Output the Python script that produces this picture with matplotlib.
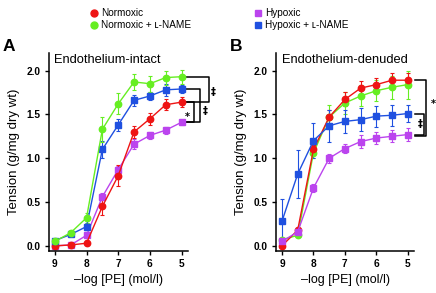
import numpy as np
import matplotlib
matplotlib.use("Agg")
import matplotlib.pyplot as plt

plt.rcParams['font.family'] = ['Liberation Sans', 'DejaVu Sans']

# -log [PE] doses
x = [9, 8.5, 8, 7.5, 7, 6.5, 6, 5.5, 5]

# panel A: endothelium-intact
a_norm = [0.0, 0.01, 0.03, 0.45, 0.80, 1.30, 1.45, 1.61, 1.64]
a_norm_err = [0.0, 0.0, 0.02, 0.10, 0.12, 0.07, 0.07, 0.06, 0.06]
a_norm_lname = [0.05, 0.15, 0.32, 1.33, 1.62, 1.87, 1.85, 1.92, 1.93]
a_norm_lname_err = [0.0, 0.01, 0.06, 0.14, 0.12, 0.09, 0.09, 0.08, 0.08]
a_hyp = [0.0, 0.01, 0.12, 0.56, 0.87, 1.16, 1.26, 1.32, 1.41]
a_hyp_err = [0.0, 0.0, 0.02, 0.04, 0.04, 0.06, 0.04, 0.04, 0.03]
a_hyp_lname = [0.06, 0.13, 0.22, 1.10, 1.38, 1.66, 1.71, 1.78, 1.79]
a_hyp_lname_err = [0.0, 0.0, 0.04, 0.10, 0.07, 0.06, 0.05, 0.07, 0.05]

# panel B: endothelium-denuded
b_norm = [0.0, 0.18, 1.10, 1.47, 1.67, 1.80, 1.84, 1.89, 1.89]
b_norm_err = [0.0, 0.02, 0.05, 0.08, 0.08, 0.08, 0.08, 0.08, 0.08]
b_norm_lname = [0.07, 0.12, 1.06, 1.47, 1.63, 1.71, 1.77, 1.81, 1.84]
b_norm_lname_err = [0.0, 0.02, 0.06, 0.14, 0.13, 0.12, 0.12, 0.13, 0.16]
b_hyp = [0.05, 0.16, 0.66, 1.00, 1.11, 1.19, 1.23, 1.25, 1.27]
b_hyp_err = [0.0, 0.02, 0.05, 0.05, 0.05, 0.07, 0.07, 0.07, 0.07]
b_hyp_lname = [0.28, 0.82, 1.20, 1.37, 1.42, 1.44, 1.48, 1.49, 1.51]
b_hyp_lname_err = [0.25, 0.27, 0.20, 0.18, 0.13, 0.13, 0.12, 0.12, 0.10]

c_red = '#ee1414'
c_green = '#66ee22'
c_purple = '#bb44ee'
c_blue = '#1f50e0'

fig = plt.figure(figsize=(4.36, 2.93), dpi=100)
axA = fig.add_axes([0.112, 0.143, 0.319, 0.676])
axB = fig.add_axes([0.633, 0.143, 0.317, 0.676])


def curve(ax, y, err, color, marker, ms):
    ax.errorbar(x, y, yerr=err, color=color, marker=marker, ms=ms, lw=1.0,
                elinewidth=0.8, capsize=1.5, capthick=0.8, mec=color)


def style(ax, title):
    ax.set_xlim(9.19, 4.8)
    ax.set_ylim(-0.06, 2.2)
    ax.set_xticks([9, 8, 7, 6, 5])
    ax.set_yticks([0, 0.5, 1.0, 1.5, 2.0])
    ax.set_yticklabels(['0.0', '0.5', '1.0', '1.5', '2.0'])
    ax.spines['top'].set_visible(False)
    ax.spines['right'].set_visible(False)
    ax.spines['left'].set_linewidth(1.1)
    ax.spines['bottom'].set_linewidth(1.1)
    ax.tick_params(direction='out', length=3, width=1, labelsize=7.3, pad=3)
    for t in ax.get_xticklabels() + ax.get_yticklabels():
        t.set_fontweight('bold')
    ax.set_xlabel('\u2013log [PE] (mol/l)', fontsize=9, labelpad=3)
    ax.set_ylabel('Tension (g/mg dry wt)', fontsize=9.5, labelpad=5)
    ax.text(0.04, 0.965, title, transform=ax.transAxes, fontsize=9.3,
            va='center')


def bracket(ax, xs, xe, y1, y2, sym, xt, yt):
    ax.plot([xs, xe, xe, xs], [y1, y1, y2, y2], color='k', lw=1.1,
            clip_on=False)
    ax.text(xt, yt, sym, ha='center', va='center', fontsize=7,
            fontweight='bold', clip_on=False,
            family=['DejaVu Sans'])


# panel A
curve(axA, a_hyp, a_hyp_err, c_purple, 's', 3.8)
curve(axA, a_norm, a_norm_err, c_red, 'o', 4.6)
curve(axA, a_hyp_lname, a_hyp_lname_err, c_blue, 's', 3.8)
curve(axA, a_norm_lname, a_norm_lname_err, c_green, 'o', 4.6)
style(axA, 'Endothelium-intact')

bracket(axA, 4.9, 4.13, a_norm_lname[-1], a_norm[-1], '\u2021', 4.0, 1.75)
bracket(axA, 4.9, 4.6, a_norm[-1], a_hyp[-1], '*', 4.82, 1.47)
bracket(axA, 4.9, 4.42, a_hyp_lname[-1], a_hyp[-1], '\u2021', 4.27, 1.54)

# panel B
curve(axB, b_norm_lname, b_norm_lname_err, c_green, 'o', 4.6)
curve(axB, b_norm, b_norm_err, c_red, 'o', 4.6)
curve(axB, b_hyp_lname, b_hyp_lname_err, c_blue, 's', 3.8)
curve(axB, b_hyp, b_hyp_err, c_purple, 's', 3.8)
style(axB, 'Endothelium-denuded')

bracket(axB, 4.78, 4.42, b_norm[-1], b_hyp[-1] - 0.02, '*', 4.18, 1.62)
bracket(axB, 4.78, 4.48, b_hyp_lname[-1], b_hyp[-1], '\u2021', 4.62, 1.39)

# panel letters
fig.text(0.005, 0.825, 'A', fontsize=12.5, fontweight='bold')
fig.text(0.528, 0.825, 'B', fontsize=12.5, fontweight='bold')

# legend
leg_items = [
    (0.215, 0.955, c_red, 'o', 'Normoxic'),
    (0.215, 0.913, c_green, 'o', 'Normoxic + \u029f-NAME'),
    (0.592, 0.955, c_purple, 's', 'Hypoxic'),
    (0.592, 0.913, c_blue, 's', 'Hypoxic + \u029f-NAME'),
]
for lx, ly, col, mk, lab in leg_items:
    fig.add_artist(plt.Line2D([lx], [ly], marker=mk, color=col, ls='',
                              ms=5 if mk == 'o' else 4,
                              transform=fig.transFigure))
    fig.text(lx + 0.016, ly, lab, fontsize=7.2, va='center')

fig.savefig('out.png', dpi=100)
